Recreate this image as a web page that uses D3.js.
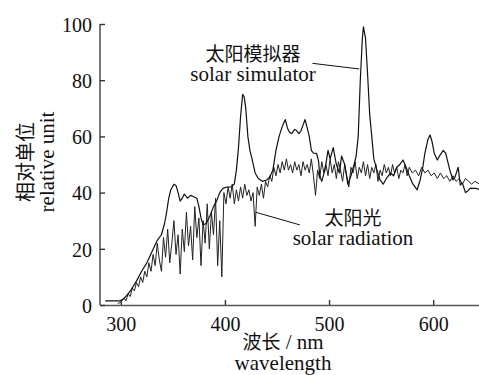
<!DOCTYPE html>
<html>
<head>
<meta charset="utf-8">
<script src="https://cdn.jsdelivr.net/npm/d3@7"></script>
<style>
  html, body { margin: 0; padding: 0; background: #fff; }
  svg { display: block; }
</style>
</head>
<body>
<svg id="chart" width="479" height="375"></svg>
<script>
// wavelength (nm) / relative unit
const simulator = [
  [285, 1.5], [299, 1.5], [302, 2], [306, 3.5], [310, 5.5], [315, 8.5], [320, 12], [325, 15],
  [330, 19], [335, 23], [339, 25], [342, 29], [344, 33], [346, 38], [348, 41], [351, 43],
  [353, 42.5], [355, 40], [357, 37], [359, 38], [361, 39.5], [364, 38], [367, 39], [370, 38.5],
  [373, 38], [375, 35], [377, 31], [379, 28.5], [382, 29], [386, 32], [389, 35], [392, 37],
  [395, 40], [398, 41.5], [402, 42], [406, 42], [409, 43], [411, 48], [413, 56], [415, 67],
  [417, 75], [418.5, 74], [420, 70], [422, 60], [424, 55], [426, 52], [429, 47], [432, 45],
  [436, 44], [440, 44.5], [443, 45.5], [446, 48], [449, 55], [452, 60], [455, 63.5], [458, 66],
  [460, 63], [462, 61.5], [464, 61], [467, 62.5], [469, 62], [471, 61], [473, 62], [475, 64],
  [477, 66], [479, 63], [481, 60], [483, 55], [485, 54], [488, 54], [490, 51], [491, 46],
  [493, 44], [496, 48], [499, 55], [501, 52], [504, 56], [507, 50], [510, 47], [512, 53],
  [515, 50], [518, 43], [521, 46], [524, 50], [526, 53], [528, 60], [530, 80], [532, 95],
  [533, 99], [535, 95], [537, 82], [539, 68], [541, 60], [543, 52], [546, 48], [549, 44.5],
  [552, 43], [555, 45], [559, 47], [562, 46], [565, 49], [568, 50], [571, 51.6], [574, 49],
  [577, 46], [580, 43.4], [584.6, 41], [587.5, 44.5], [590, 49], [592, 54], [595, 59],
  [597, 60.5], [599, 58], [601, 54], [604, 51.6], [606, 53], [609.6, 55], [612, 54],
  [614, 51], [616, 48], [619, 44.5], [621, 45.6], [624, 49], [626, 42.7], [628, 43.4],
  [631, 40], [633, 40.5], [635.6, 41.6], [638, 41.5], [641, 41.5], [645, 41]
];

const radiation = [
  [297, 0.5], [300, 1], [303, 2.5], [305, 1.5], [307, 4], [309, 3], [311, 6], [313, 5],
  [315, 8], [317, 6.5], [319, 10], [321, 8], [323, 12], [325, 10], [327, 15], [329, 12],
  [331, 18], [333, 14], [335, 22], [337, 16], [339, 12], [341, 24], [343, 17], [345, 27],
  [347, 15], [349, 22], [351, 30], [353, 18], [355, 25], [357, 11], [359, 27], [361, 19],
  [363, 33], [365, 21], [367, 28], [369, 16], [371, 35], [373, 24], [375, 31], [377, 14],
  [379, 30], [381, 22], [383, 36], [385, 20], [387, 33], [389, 25], [391, 38], [393, 14],
  [395, 30], [397, 10], [399, 40], [401, 36], [403, 42], [405, 38], [407, 43], [409, 36],
  [411, 41], [413, 37], [415, 42], [417, 38], [419, 43], [421, 39], [423, 41], [425, 37],
  [427, 40], [429, 28], [431, 42], [433, 39], [435, 43], [437, 38], [439, 44], [441, 42],
  [443, 46], [445, 44], [447, 49], [449, 46], [451, 50], [453, 47], [455, 51], [457, 48],
  [459, 52], [461, 48], [463, 50], [465, 47], [467, 51], [469, 48], [471, 50], [473, 46],
  [475, 51], [477, 48], [479, 50], [481, 47], [483, 52], [485, 46], [487, 39], [489, 48],
  [491, 45], [493, 51], [495, 47], [497, 50], [499, 46], [501, 52], [503, 47], [505, 50],
  [507, 45], [509, 51], [511, 48], [513, 44], [515, 50], [517, 46], [519, 42], [521, 49],
  [523, 47], [525, 51], [527, 45], [529, 49], [531, 47], [533, 51], [535, 46], [537, 50],
  [539, 45], [541, 49], [543, 47], [545, 50], [547, 44], [549, 48], [551, 46], [553, 50],
  [555, 47], [557, 49], [559, 46], [561, 50], [563, 47], [565, 49], [567, 45], [569, 48],
  [571, 47], [573, 50], [575, 46], [577, 49], [580, 47], [583, 48], [586, 46], [589, 49],
  [592, 47], [595, 48], [598, 46], [601, 47], [604, 45], [607, 47], [610, 45], [613, 46],
  [616, 44], [619, 46], [622, 44], [625, 45], [628, 43], [631, 45], [634, 44], [637, 43],
  [640, 44], [645, 43]
];

const xTicks = [300, 400, 500, 600];
const yTicks = [0, 20, 40, 60, 80, 100];

// callouts: label anchor (data units), leader line from -> to
const callouts = [
  { zh: '太阳模拟器', en: 'solar simulator', at: [427, 87], from: [484, 86], to: [529, 84] },
  { zh: '太阳光', en: 'solar radiation', at: [523, 28.5], from: [472, 28.5], to: [429.6, 33] }
];

const LATIN = '"Liberation Serif"';
const CJK = '"Noto Sans CJK SC"';

const svg = d3.select('#chart');
const margin = { left: 100, top: 24, right: 0, bottom: 70 };
const W = +svg.attr('width'), H = +svg.attr('height');

const x = d3.scaleLinear().domain([280, 644]).range([margin.left, W - margin.right]);
const y = d3.scaleLinear().domain([0, 100]).range([H - margin.bottom, margin.top]);

const line = d3.line().x(d => x(d[0])).y(d => y(d[1]));

// axes
const xAxis = svg.append('g')
  .attr('transform', `translate(0,${y(0)})`)
  .call(d3.axisBottom(x).tickValues(xTicks).tickSizeInner(-5).tickSizeOuter(0).tickPadding(12));
const yAxis = svg.append('g')
  .attr('transform', `translate(${x(280)},0)`)
  .call(d3.axisLeft(y).tickValues(yTicks).tickSizeInner(-5).tickSizeOuter(0).tickPadding(8));

[xAxis, yAxis].forEach(g => {
  g.select('.domain').attr('stroke', '#555').attr('stroke-width', 1.6);
  g.selectAll('.tick line').attr('stroke', '#333').attr('stroke-width', 1.4);
  g.selectAll('.tick text').style('font-family', LATIN).attr('font-size', 20).attr('fill', '#111');
});
yAxis.selectAll('.tick text').attr('dy', '0.36em');
xAxis.selectAll('.tick text').attr('dy', '0.72em');
// y axis reaches up to the 100 tick
yAxis.select('.domain').attr('d', `M0,${y(0)}V${y(100)}`);

// curves
svg.append('path').datum(radiation)
  .attr('d', line).attr('fill', 'none').attr('stroke', '#222').attr('stroke-width', 1)
  .attr('stroke-linejoin', 'round');
svg.append('path').datum(simulator)
  .attr('d', line).attr('fill', 'none').attr('stroke', '#111').attr('stroke-width', 1.2)
  .attr('stroke-linejoin', 'round');

// callouts
callouts.forEach(c => {
  svg.append('line')
    .attr('x1', x(c.from[0])).attr('y1', y(c.from[1]))
    .attr('x2', x(c.to[0])).attr('y2', y(c.to[1]))
    .attr('stroke', '#111').attr('stroke-width', 1);
  svg.append('text').style('font-family', CJK).attr('fill', '#111')
    .attr('text-anchor', 'middle').attr('font-size', 19)
    .attr('x', x(c.at[0])).attr('y', y(c.at[1])).text(c.zh);
  svg.append('text').style('font-family', LATIN).attr('fill', '#111')
    .attr('text-anchor', 'middle').attr('font-size', 21)
    .attr('x', x(c.at[0])).attr('y', y(c.at[1]) + 20).text(c.en);
});

// axis titles
const xt = svg.append('text').attr('fill', '#111').attr('text-anchor', 'middle')
  .attr('font-size', 21).attr('x', 283).attr('y', 349);
xt.append('tspan').style('font-family', CJK).attr('font-size', 19).text('波长');
xt.append('tspan').style('font-family', LATIN).text(' / nm');
svg.append('text').style('font-family', LATIN).attr('fill', '#111')
  .attr('text-anchor', 'middle').attr('font-size', 21)
  .attr('x', 283).attr('y', 370).text('wavelength');

svg.append('text').style('font-family', CJK).attr('fill', '#111')
  .attr('text-anchor', 'middle').attr('font-size', 20)
  .attr('transform', 'translate(33,162) rotate(-90)').text('相对单位');
svg.append('text').style('font-family', LATIN).attr('fill', '#111')
  .attr('text-anchor', 'middle').attr('font-size', 21)
  .attr('transform', 'translate(54,162) rotate(-90)').text('relative unit');
</script>
</body>
</html>
